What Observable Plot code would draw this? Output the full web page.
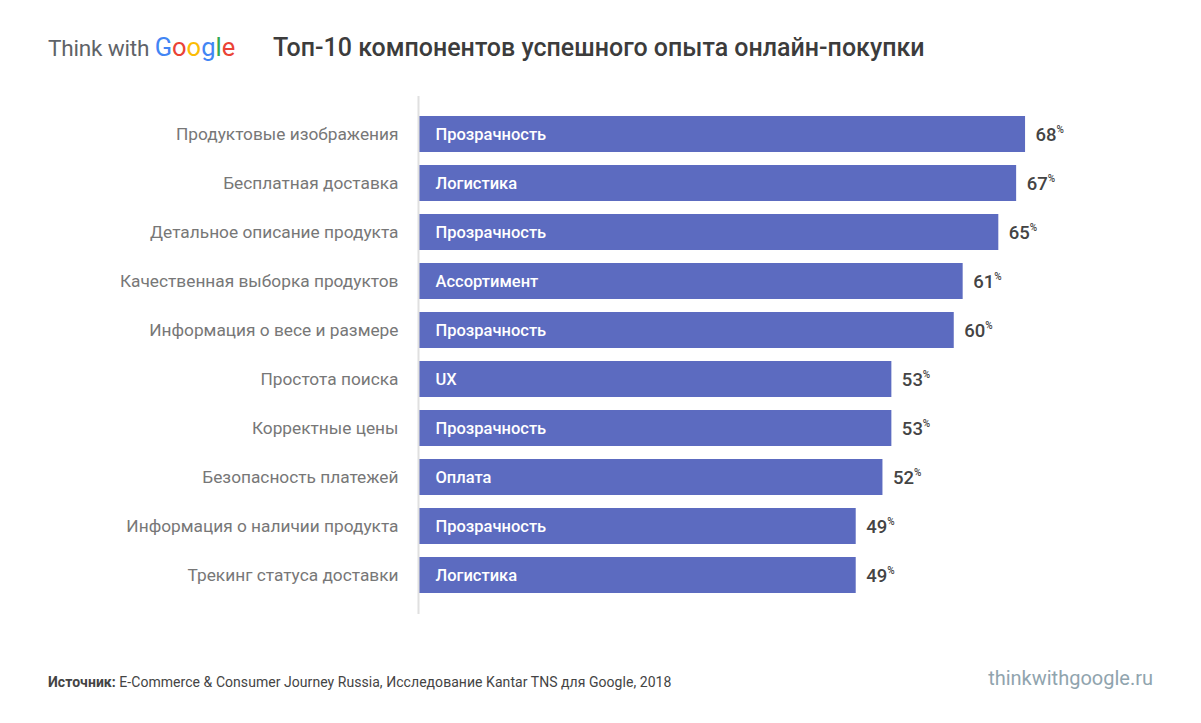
<!DOCTYPE html>
<html><head><meta charset="utf-8">
<script src="https://cdn.jsdelivr.net/npm/d3@7"></script>
<script src="https://cdn.jsdelivr.net/npm/@observablehq/plot@0.6"></script>
<style>
body{margin:0;background:#fff;font-family:Roboto,"Noto Sans",sans-serif;}
#wrap{position:relative;width:1201px;height:723px;overflow:hidden;}
.abs{position:absolute;white-space:nowrap;}
</style></head><body>
<div id="wrap">
  <div class="abs" style="left:48px;top:32px;font-size:22.6px;color:#5f6368;letter-spacing:-0.2px;">Think with <span style="font-size:25.5px;letter-spacing:0"><span style="color:#4285F4">G</span><span style="color:#EA4335">o</span><span style="color:#FBBC05">o</span><span style="color:#4285F4">g</span><span style="color:#34A853">l</span><span style="color:#EA4335">e</span></span></div>
  <div class="abs" id="title" style="left:273px;top:33px;font-size:25px;font-weight:500;color:#3c3c3c;">Топ-10 компонентов успешного опыта онлайн-покупки</div>
  <div class="abs" id="chart" style="left:0;top:90px;"></div>
  <div class="abs" style="left:48px;top:674px;font-size:14px;color:#444;letter-spacing:0.05px;"><b>Источник:</b> E-Commerce &amp; Consumer Journey Russia, Исследование Kantar TNS для Google, 2018</div>
  <div class="abs" style="right:48px;top:666px;font-size:20px;color:#90a4ae;">thinkwithgoogle.ru</div>
</div>
<script>
const categories = ["Продуктовые изображения","Бесплатная доставка","Детальное описание продукта","Качественная выборка продуктов","Информация о весе и размере","Простота поиска","Корректные цены","Безопасность платежей","Информация о наличии продукта","Трекинг статуса доставки"];
const groups = ["Прозрачность","Логистика","Прозрачность","Ассортимент","Прозрачность","UX","Прозрачность","Оплата","Прозрачность","Логистика"];
const values = [68,67,65,61,60,53,53,52,49,49];

const data = categories.map((c,i)=>({cat:c, group:groups[i], value:values[i]}));

const chart = Plot.plot({
  width: 1201,
  height: 530,
  marginLeft: 419,
  marginRight: 69,
  marginTop: 6,
  marginBottom: 6,
  style: {fontFamily: "Roboto, 'Noto Sans', sans-serif", background: "transparent"},
  x: {domain: [0, 80], axis: null},
  y: {domain: categories, paddingInner: 0.27, paddingOuter: 0.135, insetTop: 13.5, insetBottom: 14.5, label: null},
  axis: null,
  marks: [
    Plot.axisY({tickSize: 0, tickPadding: 21, fontSize: 17.3, color: "#777", label: null}),
    Plot.barX(data, {x: "value", y: "cat", fill: "#5c6bc0"}),
    Plot.ruleX([0], {stroke: "#e0e0e0", strokeWidth: 2, dx: -1}),
    Plot.text(data, {x: 0, y: "cat", text: "group", textAnchor: "start", dx: 16, fill: "#fff", fontWeight: 500, fontSize: 16.5}),
    Plot.text(data, {x: "value", y: "cat", text: d => String(d.value), textAnchor: "start", dx: 10, dy: 1, fill: "#444", fontWeight: 500, fontSize: 18.5}),
    Plot.text(data, {x: "value", y: "cat", text: () => "%", textAnchor: "start", dx: 31, dy: -5, fill: "#444", fontWeight: 500, fontSize: 10})
  ]
});
document.getElementById("chart").appendChild(chart);
</script>
</body></html>
